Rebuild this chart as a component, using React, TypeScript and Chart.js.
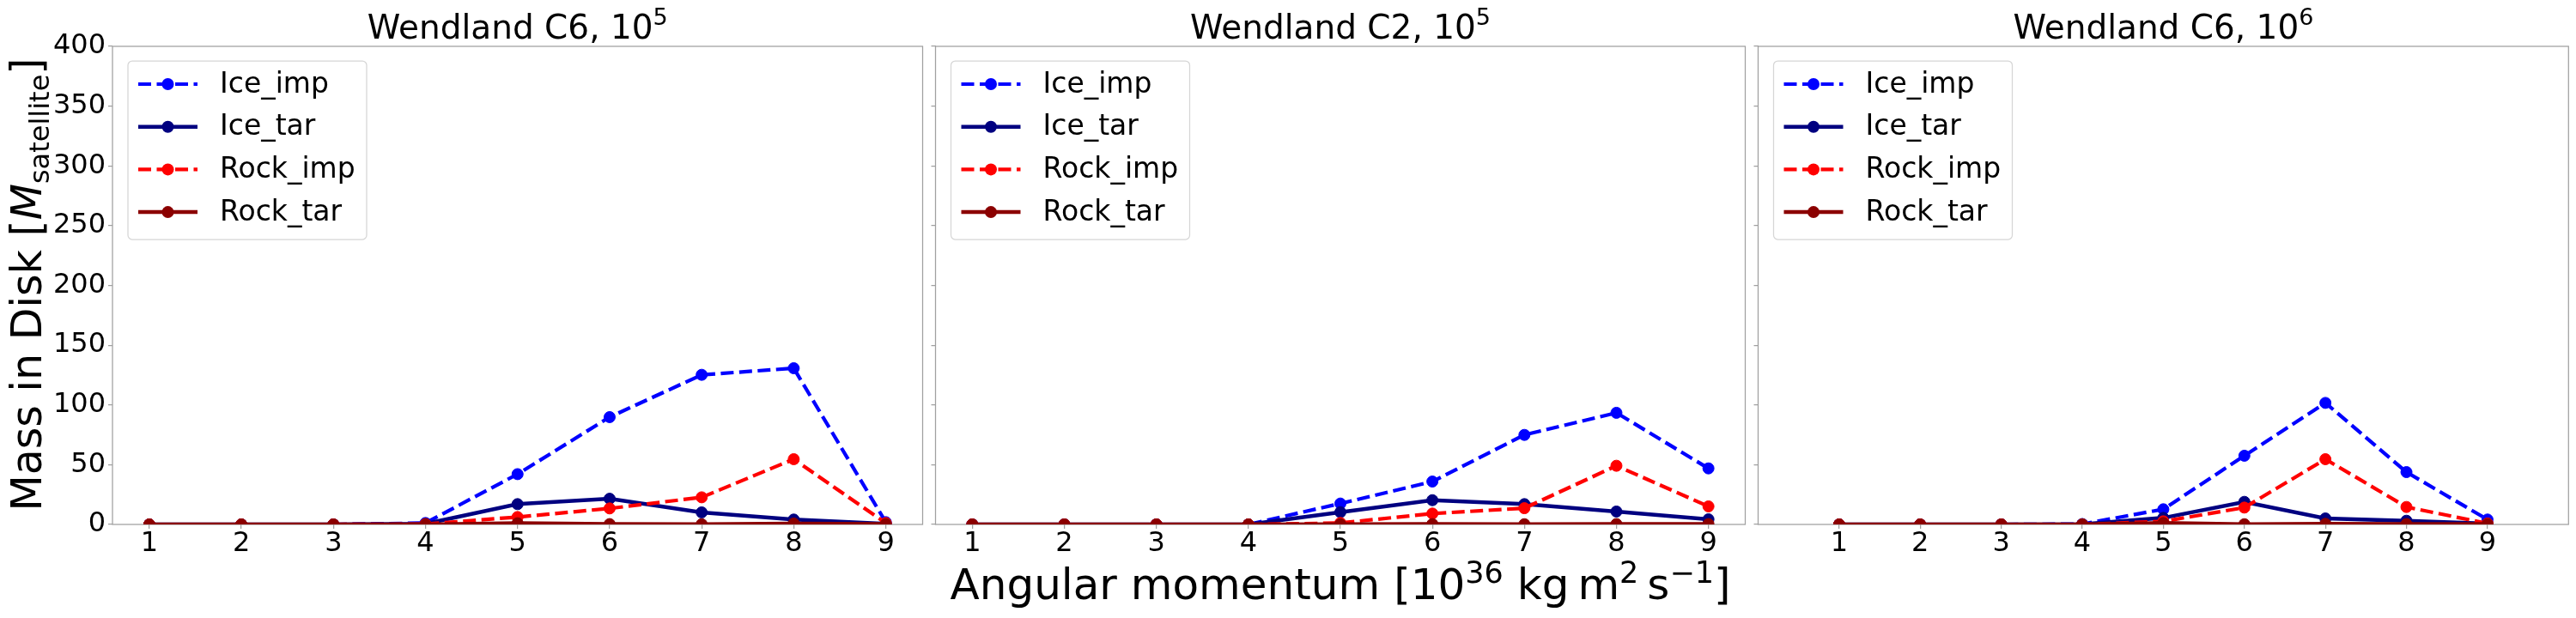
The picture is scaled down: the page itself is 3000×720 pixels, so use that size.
import React, { useEffect, useRef } from "react";
import { Chart, registerables } from "chart.js";

Chart.register(...registerables);

// ---- data -------------------------------------------------------------
const X_VALUES = [1, 2, 3, 4, 5, 6, 7, 8, 9];
const X_TICKS = [1, 2, 3, 4, 5, 6, 7, 8, 9];
const Y_TICKS = [0, 50, 100, 150, 200, 250, 300, 350, 400];
const SERIES_NAMES = ["Ice_imp", "Ice_tar", "Rock_imp", "Rock_tar"];

// Wendland C6, 10^5
const C6_E5_ICE_IMP = [0, 0, 0, 1.2, 42.1, 89.8, 125.2, 130.7, 1.9];
const C6_E5_ICE_TAR = [0, 0, 0, 0.5, 17.0, 21.5, 10.1, 4.1, 0.5];
const C6_E5_ROCK_IMP = [0, 0, 0, 0.3, 6.2, 13.4, 22.7, 54.6, 1.2];
const C6_E5_ROCK_TAR = [0, 0, 0, 0, 1.0, 0.3, 0.2, 0.8, 0.3];

// Wendland C2, 10^5
const C2_E5_ICE_IMP = [0, 0, 0, 0, 17.5, 35.9, 74.9, 93.4, 46.9];
const C2_E5_ICE_TAR = [0, 0, 0, 0, 10.3, 20.3, 17.0, 10.8, 4.3];
const C2_E5_ROCK_IMP = [0, 0, 0, 0, 1.2, 9.1, 13.6, 49.1, 15.1];
const C2_E5_ROCK_TAR = [0, 0, 0, 0, 0.2, 0.3, 0.2, 0.3, 0.3];

// Wendland C6, 10^6
const C6_E6_ICE_IMP = [0, 0, 0, 0.3, 12.7, 57.5, 101.7, 43.8, 4.1];
const C6_E6_ICE_TAR = [0, 0, 0, 0.2, 5.5, 18.9, 5.0, 3.1, 0.8];
const C6_E6_ROCK_IMP = [0, 0, 0, 0, 2.6, 14.1, 54.6, 14.6, 0.8];
const C6_E6_ROCK_TAR = [0, 0, 0, 0, 1.2, 0.2, 0.5, 0.3, 0.3];

// ---- styling -----------------------------------------------------------
const FONT = '"DejaVu Sans", sans-serif';
const EDGE = "#a0a0a0";
const CANVAS_H = 720;
const AREA_TOP = 54;
const AREA_BOTTOM = 611;
const MARKER_R = 7;

const SERIES_STYLE = [
  { color: "#0000ff", dash: [15, 6.5], width: 4.2 },
  { color: "#000080", dash: [] as number[], width: 4.5 },
  { color: "#ff0000", dash: [15, 6.5], width: 4.2 },
  { color: "#8b0000", dash: [] as number[], width: 4.5 },
];

type Seg = { text: string; size: number; shift?: number; italic?: boolean };

function fontOf(seg: Seg) {
  return `${seg.italic ? "italic " : ""}${seg.size}px ${FONT}`;
}

function drawRich(ctx: CanvasRenderingContext2D, segs: Seg[], cx: number, baseline: number) {
  let total = 0;
  const widths = segs.map((s) => {
    ctx.font = fontOf(s);
    const w = ctx.measureText(s.text).width;
    total += w;
    return w;
  });
  let x = cx - total / 2;
  ctx.textAlign = "left";
  ctx.textBaseline = "alphabetic";
  ctx.fillStyle = "#000";
  segs.forEach((s, i) => {
    ctx.font = fontOf(s);
    ctx.fillText(s.text, x, baseline + (s.shift || 0));
    x += widths[i];
  });
}

type Panel = {
  canvasLeft: number;
  canvasWidth: number;
  areaLeft: number;
  areaRight: number;
  xMin: number;
  xMax: number;
  yLabels: boolean;
  title: string;
  titleExp: string;
  series: number[][];
  yTitle?: boolean;
  xTitle?: boolean;
};

const PANELS: Panel[] = [
  {
    canvasLeft: 0, canvasWidth: 1082, areaLeft: 131, areaRight: 1076.7,
    xMin: 0.6, xMax: 9.4, yLabels: true,
    title: "Wendland C6, 10", titleExp: "5",
    series: [C6_E5_ICE_IMP, C6_E5_ICE_TAR, C6_E5_ROCK_IMP, C6_E5_ROCK_TAR],
    yTitle: true,
  },
  {
    canvasLeft: 1082, canvasWidth: 958, areaLeft: 7, areaRight: 952,
    xMin: 0.6, xMax: 9.4, yLabels: false,
    title: "Wendland C2, 10", titleExp: "5",
    series: [C2_E5_ICE_IMP, C2_E5_ICE_TAR, C2_E5_ROCK_IMP, C2_E5_ROCK_TAR],
    xTitle: true,
  },
  {
    canvasLeft: 2040, canvasWidth: 960, areaLeft: 6.7, areaRight: 951.3,
    xMin: 0, xMax: 10, yLabels: false,
    title: "Wendland C6, 10", titleExp: "6",
    series: [C6_E6_ICE_IMP, C6_E6_ICE_TAR, C6_E6_ROCK_IMP, C6_E6_ROCK_TAR],
  },
];

function makeDecor(panel: Panel) {
  return {
    id: "panelDecor",
    beforeDatasetsDraw(chart: any) {
      const { ctx, chartArea: a } = chart;
      ctx.save();
      ctx.strokeStyle = EDGE;
      ctx.lineWidth = 1.25;
      ctx.strokeRect(a.left, a.top, a.right - a.left, a.bottom - a.top);
      ctx.restore();
    },
    afterDatasetsDraw(chart: any) {
      const { ctx, chartArea: a } = chart;
      const bx = a.left + 18;
      const by = a.top + 17;
      const bw = 278;
      const bh = 208;
      ctx.save();
      ctx.beginPath();
      ctx.roundRect(bx, by, bw, bh, 5);
      ctx.fillStyle = "rgba(255,255,255,0.85)";
      ctx.fill();
      ctx.strokeStyle = "#d6d6d6";
      ctx.lineWidth = 1.25;
      ctx.stroke();
      chart.data.datasets.forEach((ds: any, i: number) => {
        const y = by + 27 + i * 49.7;
        ctx.beginPath();
        ctx.setLineDash(ds.borderDash || []);
        ctx.strokeStyle = ds.borderColor;
        ctx.lineWidth = ds.borderWidth;
        ctx.moveTo(bx + 12, y);
        ctx.lineTo(bx + 81, y);
        ctx.stroke();
        ctx.setLineDash([]);
        ctx.beginPath();
        ctx.arc(bx + 46.5, y, MARKER_R, 0, Math.PI * 2);
        ctx.fillStyle = ds.borderColor;
        ctx.fill();
        ctx.font = `33px ${FONT}`;
        ctx.fillStyle = "#000";
        ctx.textAlign = "left";
        ctx.textBaseline = "middle";
        ctx.fillText(ds.label, bx + 107, y + 1);
      });
      ctx.restore();
    },
    afterDraw(chart: any) {
      const { ctx, chartArea: a } = chart;
      ctx.save();
      drawRich(
        ctx,
        [
          { text: panel.title, size: 39 },
          { text: panel.titleExp, size: 27, shift: -15.7 },
        ],
        (a.left + a.right) / 2,
        45
      );
      if (panel.xTitle) {
        drawRich(
          ctx,
          [
            { text: "Angular momentum [10", size: 50 },
            { text: "36", size: 35, shift: -19 },
            { text: " kg\u2009m", size: 50 },
            { text: "2", size: 35, shift: -19 },
            { text: "\u2009s", size: 50 },
            { text: "\u22121", size: 35, shift: -19 },
            { text: "]", size: 50 },
          ],
          (a.left + a.right) / 2,
          698
        );
      }
      if (panel.yTitle) {
        ctx.translate(48.3, (AREA_TOP + AREA_BOTTOM) / 2 - 1);
        ctx.rotate(-Math.PI / 2);
        drawRich(
          ctx,
          [
            { text: "Mass in Disk [", size: 49 },
            { text: "M", size: 49, italic: true },
            { text: "satellite", size: 32, shift: 8.4 },
            { text: "]", size: 49 },
          ],
          0,
          0
        );
      }
      ctx.restore();
    },
  };
}

function PanelChart({ panel }: { panel: Panel }) {
  const ref = useRef<HTMLCanvasElement | null>(null);

  useEffect(() => {
    if (!ref.current) return;
    const datasets = panel.series.map((vals, i) => {
      const st = SERIES_STYLE[i];
      return {
        label: SERIES_NAMES[i],
        data: X_VALUES.map((x, j) => ({ x, y: vals[j] })),
        borderColor: st.color,
        backgroundColor: st.color,
        borderWidth: st.width,
        borderDash: st.dash,
        pointRadius: MARKER_R - 0.5,
        pointBorderWidth: 1,
        pointBackgroundColor: st.color,
        pointBorderColor: st.color,
        pointHoverRadius: MARKER_R - 0.5,
        tension: 0,
        fill: false,
        clip: 0,
        order: 4 - i,
      };
    });

    const chart = new Chart(ref.current, {
      type: "line",
      data: { datasets },
      options: {
        animation: false,
        responsive: false,
        devicePixelRatio: 1,
        events: [],
        layout: {
          padding: {
            left: 0,
            right: panel.canvasWidth - panel.areaRight,
            top: AREA_TOP,
            bottom: 0,
          },
        },
        plugins: {
          legend: { display: false },
          tooltip: { enabled: false },
          title: { display: false },
        },
        scales: {
          x: {
            type: "linear",
            min: panel.xMin,
            max: panel.xMax,
            afterBuildTicks: (s: any) => {
              s.ticks = X_TICKS.map((v) => ({ value: v }));
            },
            afterFit: (s: any) => {
              s.height = CANVAS_H - AREA_BOTTOM;
            },
            ticks: {
              autoSkip: false,
              maxRotation: 0,
              padding: -2,
              color: "#000",
              font: { family: FONT, size: 32 },
              callback: (v: any) => String(v),
            },
            grid: {
              drawOnChartArea: false,
              drawTicks: true,
              tickLength: 5,
              color: EDGE,
              lineWidth: 1.25,
            },
            border: { display: false },
          },
          y: {
            type: "linear",
            min: 0,
            max: 400,
            afterBuildTicks: (s: any) => {
              s.ticks = Y_TICKS.map((v) => ({ value: v }));
            },
            afterFit: (s: any) => {
              s.width = panel.areaLeft;
            },
            ticks: {
              display: panel.yLabels,
              padding: 3,
              color: "#000",
              font: { family: FONT, size: 32 },
              callback: (v: any) => String(v),
            },
            grid: {
              drawOnChartArea: false,
              drawTicks: true,
              tickLength: 5,
              color: EDGE,
              lineWidth: 1.25,
            },
            border: { display: false },
          },
        },
      },
      plugins: [makeDecor(panel)],
    } as any);

    return () => chart.destroy();
  }, [panel]);

  return (
    <canvas
      ref={ref}
      width={panel.canvasWidth}
      height={CANVAS_H}
      style={{
        position: "absolute",
        left: panel.canvasLeft,
        top: 0,
        width: panel.canvasWidth,
        height: CANVAS_H,
      }}
    />
  );
}

export default function App() {
  return (
    <div
      style={{
        position: "absolute",
        left: 0,
        top: 0,
        width: 3000,
        height: CANVAS_H,
        background: "#fff",
        overflow: "hidden",
      }}
    >
      {PANELS.map((p, i) => (
        <PanelChart key={i} panel={p} />
      ))}
    </div>
  );
}
